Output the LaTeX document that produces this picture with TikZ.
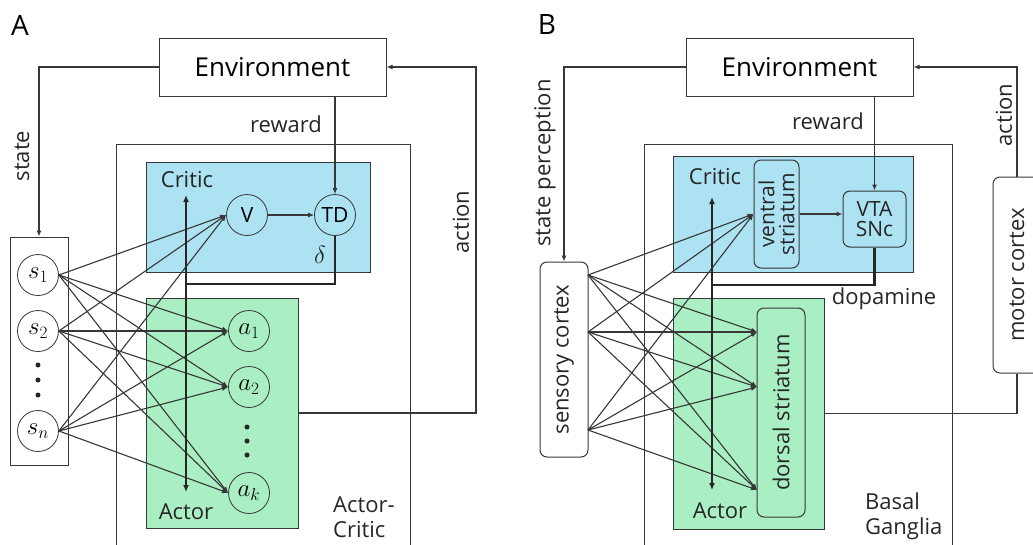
\documentclass[tikz,border=0pt]{standalone}
\usepackage{amsmath}
\usepackage{fontspec}
\setmainfont{Open Sans}
\usetikzlibrary{arrows.meta, positioning, calc}

\definecolor{criticblue}{RGB}{172,226,242}
\definecolor{actorgreen}{RGB}{170,238,196}
\definecolor{linegray}{RGB}{55,55,55}

% bigger math inside the unit circles
\newcommand{\unitlbl}[1]{{\fontsize{25}{28}\selectfont$#1$}}

\begin{document}
\begin{tikzpicture}[x=1pt, y=-1pt,
        box/.style={draw=linegray, line width=1pt, inner sep=0pt},
        rbox/.style={box, rounded corners=7pt},
        neuron/.style={circle, draw=linegray, line width=0.8pt, minimum size=41pt, inner sep=0pt, font=\fontsize{21}{24}\selectfont},
        conn/.style={draw=linegray, line width=1.1pt, -{Latex[length=6pt,width=5pt]}},
        signal/.style={draw=black!85, line width=2.4pt},
        lbl/.style={font=\fontsize{22}{25}\selectfont, text=black!85, inner sep=0pt},
        panel/.style={font=\fontsize{28}{30}\selectfont, inner sep=0pt}]
        \useasboundingbox (0,0) rectangle (1033,544);

        % ===== Panel A: Actor-Critic =====
        \node[panel] (labA) at (20,25) {A};

        % Draw the outer box (open at the bottom)
        \draw[draw=linegray, line width=1pt] (116,548) -- (116,144) -- (410,144) -- (410,548);

        % Critic and Actor areas
        \node[box, fill=criticblue, minimum width=224pt, minimum height=110pt] (criticA) at (258,217) {};
        \node[box, fill=actorgreen, minimum width=152pt, minimum height=230pt] (actorA) at (222,413) {};

        % Environment and state units
        \node[box, minimum width=227pt, minimum height=58pt, font=\fontsize{26}{28}\selectfont] (envA) at (272.5,67) {Environment};
        \node[box, minimum width=58pt, minimum height=228pt] (sboxA) at (39,351) {};
        \node[neuron] (s1) at (38,275) {\unitlbl{s_1}};
        \node[neuron] (s2) at (38,331) {\unitlbl{s_2}};
        \node[neuron] (sn) at (38,431) {\unitlbl{s_n}};
        \foreach \y in {365,380,395}
            \fill[black!85] (38,\y) circle (2.5pt);

        % Critic units
        \node[neuron] (V) at (247,215) {V};
        \node[neuron] (TD) at (335,215) {TD};

        % Actor units
        \node[neuron] (a1) at (249,331) {\unitlbl{a_1}};
        \node[neuron] (a2) at (249,387) {\unitlbl{a_2}};
        \node[neuron] (ak) at (249,493) {\unitlbl{a_k}};
        \foreach \y in {427,441,455}
            \fill[black!85] (247,\y) circle (2.5pt);

        % Labels
        \node[lbl, rotate=90] (stateA) at (22,156) {state};
        \node[lbl] (rewardA) at (286,124) {reward};
        \node[lbl] (critA) at (187,180) {Critic};
        \node[lbl] (actA) at (186,512) {Actor};
        \node[lbl, font=\fontsize{25}{26}\selectfont] (deltaA) at (320,255) {$\delta$};
        \node[lbl, rotate=90] (actionA) at (461,222) {action};
        \node[lbl, anchor=north west, align=left] (acA) at (333,497) {Actor-\\Critic};

        % Connectors
        \draw[conn] (envA.west) -| (sboxA.north);
        \draw[conn] (envA.south -| TD) -- (TD.north);
        \draw[conn] (V) -- (TD);
        \coordinate (turnA) at (476,67);
        \draw[conn] (actorA.east) -| (turnA) |- (envA.east);
        \foreach \s in {s1,s2,sn}
            \foreach \t in {V,a1,a2,ak}
                \draw[conn] (\s.east) -- (\t.west);

        % TD error to both parts
        \coordinate (topA) at (186,195);
        \coordinate (botA) at (186,492);
        \coordinate (joinA) at (186,284);
        \draw[signal, {Latex[length=7pt,width=6pt]}-{Latex[length=7pt,width=6pt]}] (botA) -- (topA);
        \draw[signal] (TD.south) |- (joinA);

        % ===== Panel B: Basal Ganglia =====
        \node[panel] (labB) at (547,25) {B};

        % Draw the outer box (open at the bottom)
        \draw[draw=linegray, line width=1pt] (644,548) -- (644,144) -- (952,144) -- (952,548);

        % Critic and Actor areas
        \node[box, fill=criticblue, minimum width=240pt, minimum height=116pt] (criticB) at (793,214) {};
        \node[box, fill=actorgreen, minimum width=151pt, minimum height=231pt] (actorB) at (748.5,413.5) {};

        % Environment and cortex
        \node[box, minimum width=227pt, minimum height=58pt, font=\fontsize{26}{28}\selectfont] (envB) at (799.5,67) {Environment};
        \node[rbox, minimum width=195pt, minimum height=48pt, rotate=90, lbl] (sensory) at (564,359.5) {sensory cortex};
        \node[rbox, minimum width=196pt, minimum height=48pt, rotate=90, lbl] (motor) at (1017,275) {motor cortex};

        % Striatum and midbrain
        \node[rbox, minimum width=108pt, minimum height=45pt, rotate=90, lbl, align=center, font=\fontsize{21}{20}\selectfont] (vs) at (776.5,214) {ventral\\striatum};
        \node[rbox, minimum width=63pt, minimum height=56pt, lbl, align=center, font=\fontsize{21}{20}\selectfont] (vta) at (874.5,219) {VTA\\SNc};
        \node[rbox, minimum width=209pt, minimum height=48pt, rotate=90, lbl] (ds) at (781,412.5) {dorsal striatum};

        % Labels
        \node[lbl, rotate=90] (stateB) at (545,163) {state perception};
        \node[lbl] (rewardB) at (828,121) {reward};
        \node[lbl] (critB) at (715,177) {Critic};
        \node[lbl] (actB) at (720,511) {Actor};
        \node[lbl] (dopa) at (884,299) {dopamine};
        \node[lbl, rotate=90] (actionB) at (1004,115) {action};
        \node[lbl, anchor=north west, align=left] (bg) at (865,493) {Basal\\Ganglia};

        % Connectors
        \draw[conn] (envB.west) -| (sensory.east);
        \draw[conn] (envB.south -| vta) -- (vta.north);
        \draw[conn] (vs.south) -- (vs.south -| vta.west);
        \draw[draw=linegray, line width=1.1pt] (actorB.east) -| (motor.west);
        \draw[conn] (motor.east) |- (envB.east);

        \coordinate (sc1) at (588,275);
        \coordinate (sc2) at (588,332);
        \coordinate (scn) at (588,430);
        \coordinate (dt1) at (757,332);
        \coordinate (dt2) at (757,387);
        \coordinate (dtk) at (757,490);
        \foreach \s in {sc1,sc2,scn}
            \foreach \t in {vs.north,dt1,dt2,dtk}
                \draw[conn] (\s) -- (\t);

        % Dopamine to both parts
        \coordinate (topB) at (712,197);
        \coordinate (botB) at (712,490);
        \coordinate (joinB) at (712,285);
        \draw[signal, {Latex[length=7pt,width=6pt]}-{Latex[length=7pt,width=6pt]}] (botB) -- (topB);
        \draw[signal] (vta.south) |- (joinB);
    \end{tikzpicture}
\end{document}
